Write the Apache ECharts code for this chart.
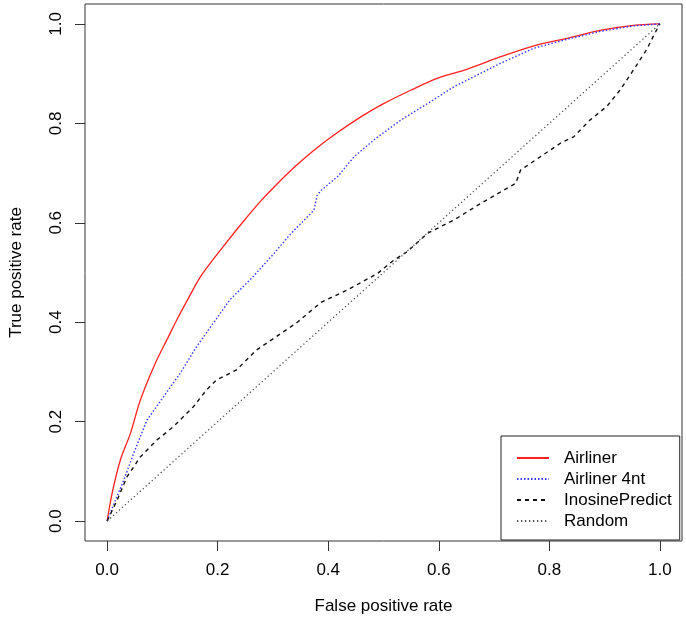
<!DOCTYPE html>
<html lang="en">
<head>
<meta charset="utf-8">
<title>ROC curves</title>
<script src="https://cdn.jsdelivr.net/npm/echarts@6/dist/echarts.min.js"></script>
<style>
  html, body { margin: 0; padding: 0; background: #fff; }
  #main { width: 686px; height: 629px; }
</style>
</head>
<body>
<div id="main"></div>
<script type="text/javascript">
// tick positions shared by both axes
var ticks = [0, 0.2, 0.4, 0.6, 0.8, 1.0];

// Airliner (red, solid)
var airlinerX = [0, 0.009, 0.024, 0.042, 0.060, 0.087, 0.111, 0.129, 0.147, 0.171, 0.210, 0.246, 0.279, 0.303, 0.339, 0.372, 0.411, 0.459, 0.501, 0.550, 0.598, 0.652, 0.712, 0.772, 0.832, 0.892, 0.952, 1];
var airlinerY = [0, 0.056, 0.123, 0.176, 0.243, 0.317, 0.371, 0.411, 0.448, 0.495, 0.552, 0.602, 0.645, 0.673, 0.712, 0.744, 0.777, 0.813, 0.840, 0.867, 0.891, 0.909, 0.934, 0.956, 0.971, 0.987, 0.997, 1];

// Airliner 4nt (blue, dotted)
var air4ntX = [0, 0.015, 0.030, 0.048, 0.072, 0.102, 0.132, 0.162, 0.192, 0.222, 0.261, 0.297, 0.333, 0.366, 0.374, 0.380, 0.387, 0.417, 0.447, 0.483, 0.532, 0.580, 0.628, 0.664, 0.712, 0.772, 0.832, 0.892, 0.952, 1];
var air4ntY = [0, 0.042, 0.082, 0.136, 0.203, 0.250, 0.297, 0.351, 0.398, 0.445, 0.488, 0.532, 0.579, 0.616, 0.625, 0.655, 0.665, 0.693, 0.733, 0.767, 0.807, 0.840, 0.874, 0.894, 0.921, 0.951, 0.969, 0.985, 0.996, 1];

// InosinePredict (black, dashed)
var inosineX = [0, 0.018, 0.036, 0.060, 0.090, 0.120, 0.156, 0.180, 0.198, 0.234, 0.270, 0.306, 0.342, 0.387, 0.435, 0.489, 0.519, 0.543, 0.580, 0.628, 0.676, 0.718, 0.739, 0.748, 0.784, 0.820, 0.844, 0.874, 0.904, 0.928, 0.952, 0.976, 0.988, 1];
var inosineY = [0, 0.042, 0.089, 0.129, 0.163, 0.190, 0.230, 0.264, 0.284, 0.304, 0.344, 0.371, 0.398, 0.440, 0.465, 0.498, 0.525, 0.542, 0.579, 0.606, 0.639, 0.666, 0.679, 0.706, 0.733, 0.760, 0.773, 0.807, 0.834, 0.867, 0.907, 0.948, 0.975, 1];

// Random (diagonal)
var randomX = [0, 1];
var randomY = [0, 1];

function zip(xs, ys) {
    return xs.map(function (x, i) { return [x, ys[i]]; });
}

var font = '"Liberation Sans", Arial, Helvetica, sans-serif';

var myChart = echarts.init(document.getElementById('main'));
var option = {
    animation: false,
    backgroundColor: '#fff',
    textStyle: { fontFamily: font, color: '#000' },
    grid: {
        left: 83, top: 4, right: 4, bottom: 88,
        show: true, borderColor: '#333', borderWidth: 1,
        backgroundColor: 'transparent'
    },
    xAxis: {
        type: 'value',
        min: -0.04, max: 1.04,
        name: 'False positive rate',
        nameLocation: 'middle',
        nameGap: 57,
        nameTextStyle: { fontFamily: font, fontSize: 17, color: '#000' },
        axisLine: { show: false, onZero: false },
        splitLine: { show: false },
        axisTick: { show: true, inside: false, length: 10, customValues: ticks, lineStyle: { color: '#333' } },
        axisLabel: {
            customValues: ticks, margin: 21, fontSize: 17, color: '#000', fontFamily: font,
            formatter: function (v) { return v.toFixed(1); }
        }
    },
    yAxis: {
        type: 'value',
        min: -0.04, max: 1.04,
        name: 'True positive rate',
        nameLocation: 'middle',
        nameGap: 60,
        nameRotate: 90,
        nameTextStyle: { fontFamily: font, fontSize: 17, color: '#000' },
        axisLine: { show: false, onZero: false },
        splitLine: { show: false },
        axisTick: { show: true, inside: false, length: 10, customValues: ticks, lineStyle: { color: '#333' } },
        axisLabel: {
            customValues: ticks, margin: 20, fontSize: 17, color: '#000', fontFamily: font,
            rotate: 90,
            formatter: function (v) { return v.toFixed(1); }
        }
    },
    legend: {
        orient: 'vertical',
        left: 501, top: 436,
        padding: [12, 8, 9, 15],
        itemGap: 1,
        itemWidth: 32, itemHeight: 2,
        itemStyle: { opacity: 0 },
        borderColor: '#222', borderWidth: 1, borderRadius: 0,
        backgroundColor: '#fff',
        textStyle: { fontFamily: font, fontSize: 17, color: '#000', lineHeight: 20, padding: [0, 0, 0, 10] },
        data: ['Airliner', 'Airliner 4nt', 'InosinePredict', 'Random']
    },
    series: [
        {
            name: 'Airliner', type: 'line', symbol: 'none', silent: true,
            smooth: 0.3,
            lineStyle: { color: '#ff2020', width: 1.3, type: 'solid' },
            itemStyle: { color: '#ff2020' },
            data: zip(airlinerX, airlinerY)
        },
        {
            name: 'Airliner 4nt', type: 'line', symbol: 'none', silent: true,
            lineStyle: { color: '#3a3aff', width: 1.4, type: [1.5, 2] },
            itemStyle: { color: '#3a3aff' },
            data: zip(air4ntX, air4ntY)
        },
        {
            name: 'InosinePredict', type: 'line', symbol: 'none', silent: true,
            lineStyle: { color: '#111', width: 1.4, type: [4, 4] },
            itemStyle: { color: '#111' },
            data: zip(inosineX, inosineY)
        },
        {
            name: 'Random', type: 'line', symbol: 'none', silent: true,
            lineStyle: { color: '#555', width: 1.3, type: [1.3, 2.7] },
            itemStyle: { color: '#555' },
            data: zip(randomX, randomY)
        }
    ]
};
myChart.setOption(option);
</script>
</body>
</html>
